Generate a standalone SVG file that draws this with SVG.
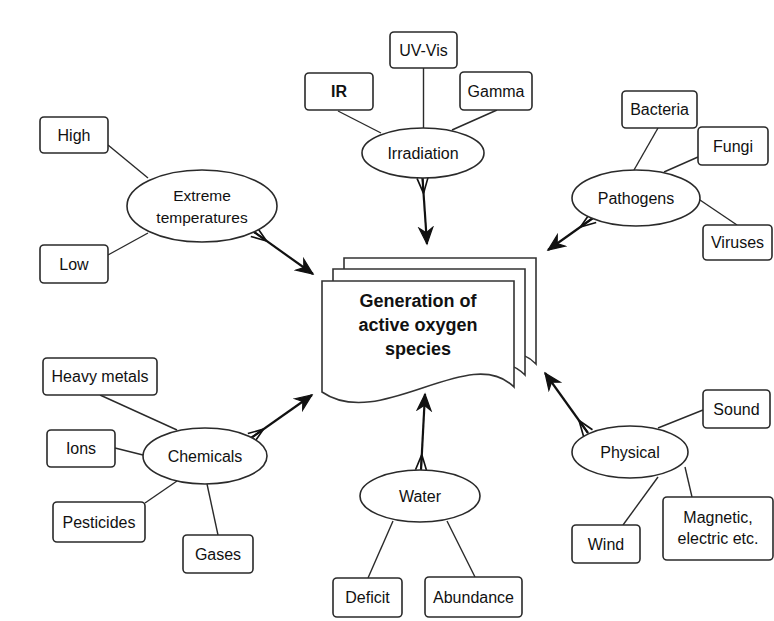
<svg xmlns="http://www.w3.org/2000/svg" width="774" height="621" viewBox="0 0 774 621">
<style>
.box{fill:#fff;stroke:#2a2a2a;stroke-width:1.6}
.ell{fill:#fff;stroke:#2a2a2a;stroke-width:1.6}
.page{fill:#fff;stroke:#333;stroke-width:1.6}
.ln{stroke:#2a2a2a;stroke-width:1.4;fill:none}
.arr{stroke:#111;stroke-width:2.2;fill:none;marker-start:url(#foot);marker-end:url(#head)}
text{font-family:"Liberation Sans",Arial,sans-serif;font-size:16px;fill:#111;text-anchor:middle}
.t15{font-size:15.5px}
.title{font-weight:bold;font-size:18px}
</style>
<defs>
<marker id="head" markerUnits="userSpaceOnUse" markerWidth="20" markerHeight="20" viewBox="-14 -8 16 16" refX="0" refY="0" orient="auto">
<path d="M-13,-5.5 L0,0 L-13,5.5 L-9,0 Z" fill="#111" stroke="#111" stroke-width="1"/>
</marker>
<marker id="foot" markerUnits="userSpaceOnUse" markerWidth="22" markerHeight="22" viewBox="-2 -8 20 16" refX="0" refY="0" orient="auto">
<path d="M0,-5 L14,0 M0,0 L14,0 M0,5 L14,0" fill="none" stroke="#111" stroke-width="1.5"/>
</marker>
</defs>
<rect width="774" height="621" fill="#fff"/>

<g id="connectors">
<line class="ln" x1="338" y1="111" x2="381" y2="133"/>
<line class="ln" x1="423.5" y1="68" x2="423.5" y2="128"/>
<line class="ln" x1="497" y1="110" x2="452" y2="130"/>
<line class="ln" x1="108" y1="145" x2="148" y2="178"/>
<line class="ln" x1="108" y1="255" x2="148" y2="233"/>
<line class="ln" x1="658" y1="128" x2="634" y2="170"/>
<line class="ln" x1="698" y1="157" x2="664" y2="172"/>
<line class="ln" x1="697" y1="198" x2="737" y2="225"/>
<line class="ln" x1="100" y1="395" x2="177" y2="430"/>
<line class="ln" x1="115" y1="448" x2="143" y2="455"/>
<line class="ln" x1="145" y1="503" x2="177" y2="481"/>
<line class="ln" x1="207" y1="484" x2="218" y2="535"/>
<line class="ln" x1="393" y1="521" x2="368" y2="578"/>
<line class="ln" x1="447" y1="521" x2="475" y2="577"/>
<line class="ln" x1="703" y1="410" x2="658" y2="428"/>
<line class="ln" x1="623" y1="525" x2="658" y2="477"/>
<line class="ln" x1="692" y1="497" x2="685" y2="467"/>
<line class="arr" x1="422.5" y1="178" x2="427" y2="244"/>
<line class="arr" x1="254" y1="232" x2="313" y2="274"/>
<line class="arr" x1="593" y1="218" x2="548" y2="250"/>
<line class="arr" x1="251" y1="438" x2="312" y2="395"/>
<line class="arr" x1="421" y1="470" x2="425" y2="394"/>
<line class="arr" x1="588" y1="433" x2="545" y2="373"/>
</g>

<g id="center">
<path class="page" transform="translate(22,-23)" d="M322,281 H514 V387 C470,342 380,432 322,392 Z"/>
<path class="page" transform="translate(11,-12)" d="M322,281 H514 V387 C470,342 380,432 322,392 Z"/>
<path class="page" d="M322,281 H514 V387 C470,342 380,432 322,392 Z"/>
<text class="title" x="418" y="307">Generation of</text>
<text class="title" x="418" y="331">active oxygen</text>
<text class="title" x="418" y="355">species</text>
</g>

<g id="irradiation"><ellipse class="ell" cx="423" cy="153" rx="61" ry="25"/><text x="423" y="158.5">Irradiation</text></g>
<g id="uvvis"><rect class="box" x="390" y="32" width="67" height="36" rx="4"/><text x="423.5" y="55.5">UV-Vis</text></g>
<g id="ir"><rect class="box" x="305" y="73" width="68" height="37" rx="4"/><text x="339" y="97" style="font-weight:bold">IR</text></g>
<g id="gamma"><rect class="box" x="460" y="72" width="72" height="38" rx="4"/><text x="496" y="96.5">Gamma</text></g>

<g id="extreme"><ellipse class="ell" cx="202" cy="206" rx="75" ry="36"/><text class="t15" x="202" y="201">Extreme</text><text class="t15" x="202" y="223">temperatures</text></g>
<g id="high"><rect class="box" x="40" y="117" width="68" height="36" rx="4"/><text x="74" y="140.5">High</text></g>
<g id="low"><rect class="box" x="40" y="245" width="68" height="38" rx="4"/><text x="74" y="269.5">Low</text></g>

<g id="pathogens"><ellipse class="ell" cx="636" cy="198" rx="64" ry="28"/><text x="636" y="203.5">Pathogens</text></g>
<g id="bacteria"><rect class="box" x="622" y="91" width="75" height="37" rx="4"/><text x="659.5" y="115">Bacteria</text></g>
<g id="fungi"><rect class="box" x="698" y="127" width="70" height="38" rx="4"/><text x="733" y="151.5">Fungi</text></g>
<g id="viruses"><rect class="box" x="703" y="225" width="69" height="35" rx="4"/><text x="737.5" y="248">Viruses</text></g>

<g id="chemicals"><ellipse class="ell" cx="205" cy="456" rx="62" ry="28"/><text x="205" y="461.5">Chemicals</text></g>
<g id="heavy-metals"><rect class="box" x="43" y="358" width="114" height="37" rx="4"/><text x="100" y="382">Heavy metals</text></g>
<g id="ions"><rect class="box" x="47" y="430" width="68" height="37" rx="4"/><text x="81" y="454">Ions</text></g>
<g id="pesticides"><rect class="box" x="53" y="502" width="92" height="40" rx="4"/><text x="99" y="527.5">Pesticides</text></g>
<g id="gases"><rect class="box" x="183" y="535" width="70" height="38" rx="4"/><text x="218" y="559.5">Gases</text></g>

<g id="water"><ellipse class="ell" cx="420" cy="496" rx="60" ry="26"/><text x="420" y="501.5">Water</text></g>
<g id="deficit"><rect class="box" x="333" y="578" width="69" height="39" rx="4"/><text x="367.5" y="603">Deficit</text></g>
<g id="abundance"><rect class="box" x="425" y="577" width="97" height="40" rx="4"/><text x="473.5" y="602.5">Abundance</text></g>

<g id="physical"><ellipse class="ell" cx="630" cy="452" rx="58" ry="26"/><text x="630" y="457.5">Physical</text></g>
<g id="sound"><rect class="box" x="703" y="390" width="67" height="38" rx="4"/><text x="736.5" y="414.5">Sound</text></g>
<g id="wind"><rect class="box" x="572" y="525" width="68" height="38" rx="4"/><text x="606" y="549.5">Wind</text></g>
<g id="magnetic"><rect class="box" x="663" y="497" width="110" height="63" rx="4"/><text x="718" y="523">Magnetic,</text><text x="718" y="544">electric etc.</text></g>
</svg>
